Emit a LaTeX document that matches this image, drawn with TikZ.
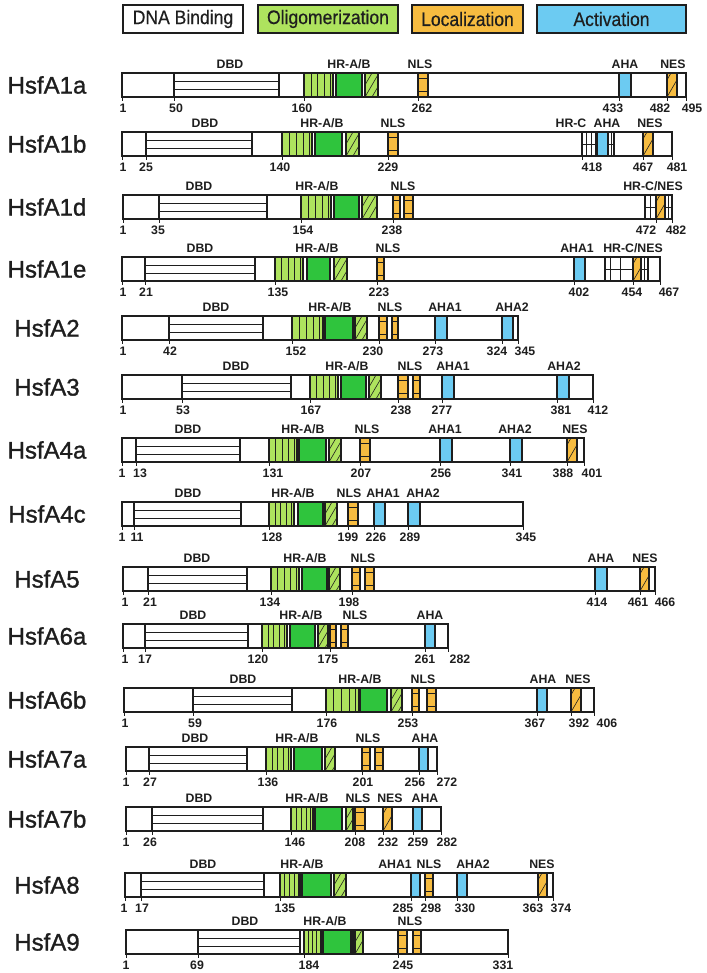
\documentclass[tikz,border=0pt]{standalone}
\usepackage{fontspec}
\setmainfont{Liberation Sans}
\newfontfamily\lblfont{Liberation Sans}[FakeBold=0.5]
\newfontfamily\namefont{Liberation Sans}[FakeBold=1.2]
\definecolor{lgreen}{HTML}{AEE35E}
\definecolor{dgreen}{HTML}{2FC43D}
\definecolor{orng}{HTML}{F7BC40}
\definecolor{blu}{HTML}{6CCBF2}
\definecolor{ink}{HTML}{1E1E1E}
\newcount\nodecnt
\newcommand\lbl[3]{\global\advance\nodecnt by 1\relax\node[#1] (n\the\nodecnt) at #2 {#3};}
\newcommand\hrow[1]{\def\yt{#1}\pgfmathsetmacro\yb{#1+24}\pgfmathsetmacro\ym{#1+12}}
\newcommand\hsf[3]{\def\xa{#2}\def\xb{#3}\fill[white] (#2,\yt) rectangle (#3,\yb);\lbl{nm}{(47,\ym)}{#1}}
\newcommand\closebar{\draw[ol] (\xa,\yt) rectangle (\xb,\yb);}
\newcommand\dbdbox[2]{\draw[il] (#1,{\yt+8}) -- (#2,{\yt+8}) (#1,{\yt+16}) -- (#2,{\yt+16});\draw[fe] (#1,\yt) -- (#1,\yb) (#2,\yt) -- (#2,\yb);}
\newcommand\stripebox[2]{\fill[lgreen] (#1,\yt) rectangle (#2,\yb);\foreach \f in {0.24,0.47,0.7,0.9}{\draw[il] ({#1+\f*(#2-#1)},\yt) -- ({#1+\f*(#2-#1)},\yb);}\draw[fe] (#1,\yt) rectangle (#2,\yb);}
\newcommand\dgbox[2]{\draw[fe,fill=dgreen] (#1,\yt) rectangle (#2,\yb);}
\newcommand\hatchbox[4]{\fill[#3] (#1,\yt) rectangle (#2,\yb);\begin{scope}\clip (#1,\yt) rectangle (#2,\yb);\foreach \k in {-5,...,5}{\draw[hl] ({#1+\k*#4},\yb) -- ({#1+\k*#4+14},\yt);}\end{scope}\draw[fe] (#1,\yt) rectangle (#2,\yb);}
\newcommand\hatchg[2]{\hatchbox{#1}{#2}{lgreen}{7}}
\newcommand\nesbox[2]{\hatchbox{#1}{#2}{orng}{10}}
\newcommand\nlsbox[2]{\draw[fe,fill=orng] (#1,\yt) rectangle (#2,\yb);\draw[il] (#1,{\yt+5}) -- (#2,{\yt+5}) (#1,{\yt+18}) -- (#2,{\yt+18});}
\newcommand\ahabox[2]{\draw[fe,fill=blu] (#1,\yt) rectangle (#2,\yb);}
\newcommand\gridbox[3]{\draw[fe,fill=white] (#1,\yt) rectangle (#2,\yb);\foreach \f in {#3}{\draw[il] ({#1+\f*(#2-#1)},\yt) -- ({#1+\f*(#2-#1)},\yb);}\draw[il] (#1,\ym) -- (#2,\ym);}
\newcommand\numl[3]{\draw[il] (#1,\yb) -- (#1,{\yb+4});\lbl{nl}{(#2,{\yb+11})}{#3}}
\newcommand\tlab[2]{\lbl{tl}{(#1,{\yt-9})}{#2}}
\newcommand\lgtext[1]{\scalebox{0.9}[1]{#1}}
\begin{document}
\begin{tikzpicture}[x=1pt,y=-1pt,
 fe/.style={draw=ink,line width=1.4pt},
 ol/.style={draw=ink,line width=1.8pt},
 il/.style={draw=ink,line width=0.9pt},
 hl/.style={draw=ink,line width=0.6pt},
 tl/.style={font=\bfseries\fontsize{12.3}{14}\selectfont,text=ink,inner sep=0pt},
 nl/.style={font=\bfseries\fontsize{12.3}{14}\selectfont,text=ink,inner sep=0pt},
 nm/.style={font=\namefont\fontsize{24}{26}\selectfont,text=ink,inner sep=0pt},
 lg/.style={draw=ink,line width=1.8pt,minimum height=28pt,inner sep=0pt,font=\lblfont\fontsize{19.5}{21}\selectfont,text=ink}]
\useasboundingbox (0,0) rectangle (706,973);
% legend
\node[lg,fill=white,minimum width=120pt] (lgdna) at (183,19) {\lgtext{DNA Binding}};
\node[lg,fill=lgreen,minimum width=140pt] (lgolig) at (328,19) {\lgtext{Oligomerization}};
\node[lg,fill=orng,minimum width=111pt] (lgloc) at (467.5,19) {\lgtext{Localization}};
\node[lg,fill=blu,minimum width=149pt] (lgact) at (611.5,19) {\lgtext{Activation}};
% HsfA1a
\hrow{73}\hsf{HsfA1a}{122}{686}
\dbdbox{174}{279}\stripebox{304}{333}\dgbox{336}{362}\hatchg{365}{378}
\nlsbox{418}{428}\ahabox{619}{631}\nesbox{667}{677}\closebar
\tlab{230}{DBD}\tlab{349}{HR-A/B}\tlab{420}{NLS}\tlab{625}{AHA}\tlab{673}{NES}
\numl{122}{123}{1}\numl{174}{176}{50}\numl{304}{302}{160}\numl{418}{422}{262}\numl{619}{613}{433}\numl{667}{660}{482}\numl{686}{692}{495}
% HsfA1b
\hrow{132}\hsf{HsfA1b}{122}{672}
\dbdbox{146}{252}\stripebox{282}{312}\dgbox{315}{342}\hatchg{346}{359}
\nlsbox{388}{398}\gridbox{582}{596}{0.33,0.67}\ahabox{597}{608}\gridbox{608}{614}{0.5}\nesbox{643}{653}\closebar
\tlab{205}{DBD}\tlab{322}{HR-A/B}\tlab{393}{NLS}\tlab{571}{HR-C}\tlab{607}{AHA}\tlab{650}{NES}
\numl{122}{123}{1}\numl{146}{146}{25}\numl{282}{280}{140}\numl{388}{388}{229}\numl{582}{592}{418}\numl{643}{643}{467}\numl{672}{677}{481}
% HsfA1d
\hrow{195}\hsf{HsfA1d}{123}{672}
\dbdbox{159}{267}\stripebox{301}{331}\dgbox{334}{359}\hatchg{362}{377}
\nlsbox{393}{400}\nlsbox{404}{413}\gridbox{645}{656}{0.5}\nesbox{656}{665}\gridbox{665}{672}{0.5}\closebar
\tlab{199}{DBD}\tlab{317}{HR-A/B}\tlab{403}{NLS}\tlab{653}{HR-C/NES}
\numl{123}{123}{1}\numl{159}{158}{35}\numl{301}{303}{154}\numl{393}{392}{238}\numl{656}{646}{472}\numl{672}{676}{482}
% HsfA1e
\hrow{257}\hsf{HsfA1e}{122}{660}
\dbdbox{145}{255}\stripebox{275}{303}\dgbox{307}{330}\hatchg{334}{347}
\nlsbox{377}{384}\ahabox{574}{585}\gridbox{605}{633}{0.2,0.55}\nesbox{633}{641}\gridbox{641}{648}{0.5}\closebar
\tlab{200}{DBD}\tlab{317}{HR-A/B}\tlab{388}{NLS}\tlab{577}{AHA1}\tlab{633}{HR-C/NES}
\numl{122}{123}{1}\numl{145}{146}{21}\numl{275}{278}{135}\numl{377}{379}{223}\numl{574}{579}{402}\numl{633}{632}{454}\numl{660}{669}{467}
% HsfA2
\hrow{316}\hsf{HsfA2}{122}{518}
\dbdbox{169}{263}\stripebox{292}{323}\dgbox{325}{353}\hatchg{355}{367}
\nlsbox{379}{387}\nlsbox{392}{398}\ahabox{435}{447}\ahabox{502}{513}\closebar
\tlab{216}{DBD}\tlab{330}{HR-A/B}\tlab{390}{NLS}\tlab{445}{AHA1}\tlab{512}{AHA2}
\numl{122}{123}{1}\numl{169}{170}{42}\numl{292}{296}{152}\numl{379}{373}{230}\numl{435}{433}{273}\numl{502}{497}{324}\numl{518}{525}{345}
% HsfA3
\hrow{375}\hsf{HsfA3}{122}{593}
\dbdbox{182}{291}\stripebox{310}{338}\dgbox{341}{366}\hatchg{369}{381}
\nlsbox{398}{408}\nlsbox{413}{420}\ahabox{442}{454}\ahabox{557}{569}\closebar
\tlab{236}{DBD}\tlab{347}{HR-A/B}\tlab{410}{NLS}\tlab{453}{AHA1}\tlab{564}{AHA2}
\numl{122}{123}{1}\numl{182}{183}{53}\numl{310}{311}{167}\numl{398}{401}{238}\numl{442}{442}{277}\numl{557}{561}{381}\numl{593}{598}{412}
% HsfA4a
\hrow{438}\hsf{HsfA4a}{122}{584}
\dbdbox{136}{240}\stripebox{269}{297}\dgbox{299}{326}\hatchg{329}{341}
\nlsbox{360}{370}\ahabox{440}{452}\ahabox{510}{522}\nesbox{567}{577}\closebar
\tlab{188}{DBD}\tlab{303}{HR-A/B}\tlab{367}{NLS}\tlab{445}{AHA1}\tlab{515}{AHA2}\tlab{575}{NES}
\numl{122}{122}{1}\numl{136}{140}{13}\numl{269}{273}{131}\numl{360}{361}{207}\numl{440}{441}{256}\numl{510}{512}{341}\numl{567}{563}{388}\numl{584}{592}{401}
% HsfA4c
\hrow{502}\hsf{HsfA4c}{122}{523}
\dbdbox{134}{241}\stripebox{269}{294}\dgbox{298}{323}\hatchg{325}{337}
\nlsbox{348}{358}\ahabox{374}{385}\ahabox{408}{420}\closebar
\tlab{188}{DBD}\tlab{293}{HR-A/B}\tlab{349}{NLS}\tlab{383}{AHA1}\tlab{423}{AHA2}
\numl{122}{122}{1}\numl{134}{137}{11}\numl{269}{272}{128}\numl{348}{348}{199}\numl{374}{376}{226}\numl{408}{410}{289}\numl{523}{526}{345}
% HsfA5
\hrow{567}\hsf{HsfA5}{123}{655}
\dbdbox{148}{247}\stripebox{271}{299}\dgbox{302}{327}\hatchg{329}{340}
\nlsbox{352}{360}\nlsbox{365}{374}\ahabox{595}{607}\nesbox{640}{649}\closebar
\tlab{197}{DBD}\tlab{305}{HR-A/B}\tlab{363}{NLS}\tlab{601}{AHA}\tlab{645}{NES}
\numl{123}{125}{1}\numl{148}{150}{21}\numl{271}{270}{134}\numl{352}{349}{198}\numl{595}{597}{414}\numl{640}{638}{461}\numl{655}{665}{466}
% HsfA6a
\hrow{624}\hsf{HsfA6a}{123}{448}
\dbdbox{145}{248}\stripebox{262}{287}\dgbox{290}{315}\hatchg{318}{328}
\nlsbox{330}{336}\nlsbox{341}{348}\ahabox{425}{435}\closebar
\tlab{193}{DBD}\tlab{301}{HR-A/B}\tlab{355}{NLS}\tlab{430}{AHA}
\numl{123}{125}{1}\numl{145}{145}{17}\numl{262}{258}{120}\numl{330}{328}{175}\numl{425}{425}{261}\numl{448}{460}{282}
% HsfA6b
\hrow{688}\hsf{HsfA6b}{124}{594}
\dbdbox{193}{292}\stripebox{326}{359}\dgbox{360}{387}\hatchg{391}{402}
\nlsbox{412}{419}\nlsbox{427}{436}\ahabox{537}{547}\nesbox{571}{581}\closebar
\tlab{243}{DBD}\tlab{360}{HR-A/B}\tlab{423}{NLS}\tlab{543}{AHA}\tlab{578}{NES}
\numl{124}{125}{1}\numl{193}{195}{59}\numl{326}{327}{176}\numl{412}{408}{253}\numl{537}{535}{367}\numl{571}{579}{392}\numl{594}{607}{406}
% HsfA7a
\hrow{747}\hsf{HsfA7a}{126}{437}
\dbdbox{149}{247}\stripebox{266}{291}\dgbox{294}{322}\hatchg{325}{335}
\nlsbox{362}{370}\nlsbox{375}{383}\ahabox{419}{428}\closebar
\tlab{195}{DBD}\tlab{297}{HR-A/B}\tlab{368}{NLS}\tlab{425}{AHA}
\numl{126}{126}{1}\numl{149}{150}{27}\numl{266}{268}{136}\numl{362}{363}{201}\numl{419}{415}{256}\numl{437}{447}{272}
% HsfA7b
\hrow{807}\hsf{HsfA7b}{126}{441}
\dbdbox{152}{263}\stripebox{291}{313}\dgbox{315}{342}\hatchg{346}{353}
\nlsbox{355}{365}\nesbox{383}{392}\ahabox{413}{422}\closebar
\tlab{199}{DBD}\tlab{307}{HR-A/B}\tlab{358}{NLS}\tlab{390}{NES}\tlab{425}{AHA}
\numl{126}{126}{1}\numl{152}{150}{26}\numl{291}{295}{146}\numl{355}{355}{208}\numl{383}{388}{232}\numl{413}{418}{259}\numl{441}{447}{282}
% HsfA8
\hrow{873}\hsf{HsfA8}{125}{553}
\dbdbox{141}{264}\stripebox{280}{300}\dgbox{302}{331}\hatchg{334}{346}
\ahabox{411}{420}\nlsbox{425}{433}\ahabox{457}{467}\nesbox{538}{547}\closebar
\tlab{203}{DBD}\tlab{302}{HR-A/B}\tlab{395}{AHA1}\tlab{429}{NLS}\tlab{473}{AHA2}\tlab{542}{NES}
\numl{125}{124}{1}\numl{141}{142}{17}\numl{280}{285}{135}\numl{411}{403}{285}\numl{425}{431}{298}\numl{457}{465}{330}\numl{538}{533}{363}\numl{553}{561}{374}
% HsfA9
\hrow{930}\hsf{HsfA9}{126}{508}
\dbdbox{198}{300}\stripebox{304}{322}\dgbox{323}{351}\fill[ink] (351,\yt) rectangle (355,\yb);\hatchg{355}{363}
\nlsbox{398}{407}\nlsbox{413}{421}\closebar
\tlab{245}{DBD}\tlab{325}{HR-A/B}\tlab{410}{NLS}
\numl{126}{126}{1}\numl{198}{197}{69}\numl{304}{309}{184}\numl{398}{403}{245}\numl{508}{503}{331}
\end{tikzpicture}
\end{document}
